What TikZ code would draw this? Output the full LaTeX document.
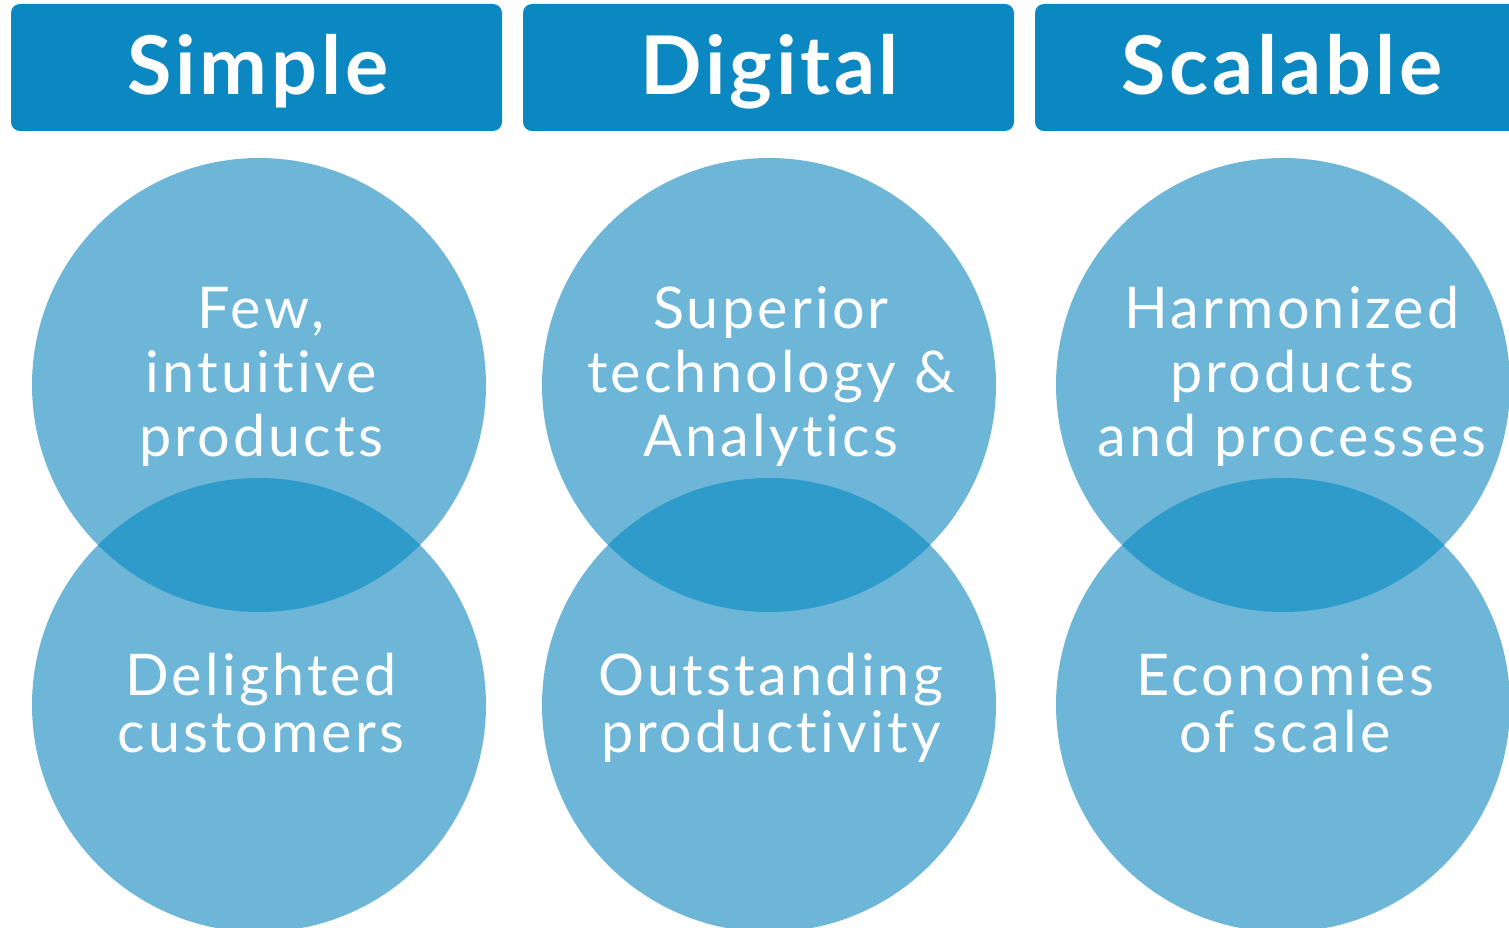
\documentclass[tikz,border=0pt]{standalone}
\usepackage{fontspec}
\setmainfont[Ligatures=NoCommon]{Lato}
\newfontfamily\bodyfont[Ligatures=NoCommon,LetterSpace=5.5]{Lato}
\newfontfamily\hdrfont[Ligatures=NoCommon,LetterSpace=4.5]{Lato}
\definecolor{hdr}{HTML}{0B88C1}
\definecolor{circ}{HTML}{6DB6D8}
\definecolor{ovl}{HTML}{2F9BCB}
\tikzset{
  hdrbox/.style={fill=hdr,rounded corners=9pt},
  hdrtext/.style={text=white,font=\hdrfont\fontsize{81}{81}\selectfont\bfseries,inner sep=0pt,anchor=base},
  bodytext/.style={text=white,font=\bodyfont\fontsize{57.5}{57.5}\selectfont,inner sep=0pt,anchor=base},
}
\begin{document}
\begin{tikzpicture}[x=1pt,y=-1pt]
\useasboundingbox (0,0) rectangle (1509,928);
\begin{scope}
\clip (0,0) rectangle (1509,928);
% headers
\fill[hdrbox] (11,4) rectangle (502,131);
\fill[hdrbox] (523,4) rectangle (1014,131);
\fill[hdrbox] (1035,4) rectangle (1530,131);
\node[hdrtext] (h1) at (258,95) {Simple};
\node[hdrtext] (h2) at (770,95) {Digital};
\node[hdrtext] (h3) at (1282,95) {Scalable};
% circles
\foreach \cx in {259,769,1283}{
  \fill[circ] (\cx,385) circle (227);
  \fill[circ] (\cx,705) circle (227);
  \begin{scope}
    \clip (\cx,385) circle (227);
    \fill[ovl] (\cx,705) circle (227);
  \end{scope}
}
\end{scope}
% texts
\node[bodytext] (t1a) at (261,328) {Few,};
\node[bodytext] (t1b) at (261,392) {intuitive};
\node[bodytext] (t1c) at (261,456) {products};
\node[bodytext] (t2a) at (771,328) {Superior};
\node[bodytext] (t2b) at (771,392) {technology \&};
\node[bodytext] (t2c) at (771,456) {Analytics};
\node[bodytext] (t3a) at (1292,328) {Harmonized};
\node[bodytext] (t3b) at (1292,392) {products};
\node[bodytext] (t3c) at (1292,456) {and processes};
\node[bodytext] (b1a) at (261,695) {Delighted};
\node[bodytext] (b1b) at (261,752) {customers};
\node[bodytext] (b2a) at (771,695) {Outstanding};
\node[bodytext] (b2b) at (771,752) {productivity};
\node[bodytext] (b3a) at (1285,695) {Economies};
\node[bodytext] (b3b) at (1285,752) {of scale};
\end{tikzpicture}
\end{document}
